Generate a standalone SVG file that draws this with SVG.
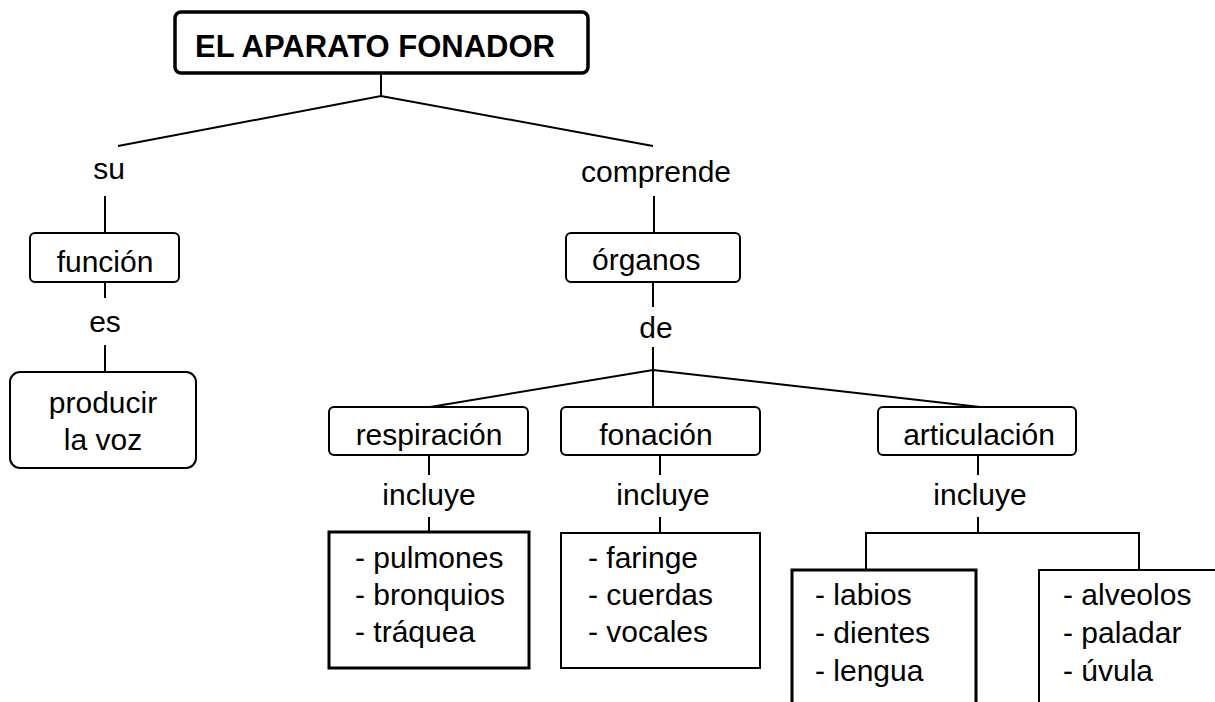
<svg xmlns="http://www.w3.org/2000/svg" width="1215" height="702" viewBox="0 0 1215 702">
<style>
text{font-family:"Liberation Sans",Arial,sans-serif;font-size:30px;fill:#000}
.c{text-anchor:middle}
.t{font-weight:bold;font-size:31px}
.node{fill:#fff;stroke:#000;stroke-width:2}
.thick{fill:#fff;stroke:#000;stroke-width:3}
.title{fill:#fff;stroke:#000;stroke-width:3.5}
.conn line,.conn polyline{stroke:#000;stroke-width:2;fill:none}
</style>
<rect width="1215" height="702" fill="#fff"/>
<g class="conn" id="connectors">
<polyline points="118,146 381,96 653,146"/>
<line x1="381" y1="73" x2="381" y2="96"/>
<line x1="105" y1="196" x2="105" y2="233"/>
<line x1="105" y1="282" x2="105" y2="298"/>
<line x1="105" y1="345" x2="105" y2="372"/>
<line x1="654" y1="196" x2="654" y2="233"/>
<line x1="653" y1="282" x2="653" y2="307"/>
<line x1="653" y1="347" x2="653" y2="407"/>
<polyline points="430,407 653,370 980,407"/>
<line x1="429" y1="455" x2="429" y2="475"/>
<line x1="429" y1="517" x2="429" y2="532"/>
<line x1="660" y1="455" x2="660" y2="475"/>
<line x1="660" y1="517" x2="660" y2="533"/>
<line x1="978" y1="455" x2="978" y2="475"/>
<line x1="978" y1="517" x2="978" y2="533"/>
<polyline points="866,570 866,533 1139,533 1139,570"/>
</g>
<g id="title"><rect class="title" x="175" y="12" width="413" height="61" rx="6"/><text class="t" x="195" y="57">EL APARATO FONADOR</text></g>
<g id="lbl-su"><text class="c" x="109" y="179">su</text></g>
<g id="lbl-comprende"><text class="c" x="656" y="182">comprende</text></g>
<g id="funcion"><rect class="node" x="30" y="233" width="149" height="49" rx="5"/><text class="c" x="105" y="272">función</text></g>
<g id="lbl-es"><text class="c" x="105" y="332">es</text></g>
<g id="producir"><rect class="node" x="10" y="372" width="186" height="96" rx="10"/><text class="c" x="103" y="413">producir</text><text class="c" x="103" y="450">la voz</text></g>
<g id="organos"><rect class="node" x="566" y="233" width="174" height="49" rx="5"/><text x="592" y="270">órganos</text></g>
<g id="lbl-de"><text class="c" x="656" y="338">de</text></g>
<g id="respiracion"><rect class="node" x="329" y="407" width="199" height="48" rx="5"/><text class="c" x="429" y="445">respiración</text></g>
<g id="fonacion"><rect class="node" x="561" y="407" width="199" height="48" rx="5"/><text class="c" x="656" y="445">fonación</text></g>
<g id="articulacion"><rect class="node" x="878" y="407" width="198" height="48" rx="5"/><text class="c" x="979" y="445">articulación</text></g>
<g id="lbl-incluye1"><text class="c" x="429" y="505">incluye</text></g>
<g id="lbl-incluye2"><text class="c" x="663" y="505">incluye</text></g>
<g id="lbl-incluye3"><text class="c" x="980" y="505">incluye</text></g>
<g id="list-resp"><rect class="thick" x="329" y="532" width="200" height="136"/><text x="355" y="568">- pulmones</text><text x="355" y="605">- bronquios</text><text x="355" y="642">- tráquea</text></g>
<g id="list-fon"><rect class="node" x="561" y="533" width="199" height="135"/><text x="588" y="568">- faringe</text><text x="588" y="605">- cuerdas</text><text x="588" y="642">- vocales</text></g>
<g id="list-art1"><rect class="thick" x="792" y="570" width="184" height="150"/><text x="815" y="605">- labios</text><text x="815" y="643">- dientes</text><text x="815" y="681">- lengua</text></g>
<g id="list-art2"><rect class="node" x="1039" y="570" width="200" height="150"/><text x="1063" y="605">- alveolos</text><text x="1063" y="643">- paladar</text><text x="1063" y="681">- úvula</text></g>
</svg>
